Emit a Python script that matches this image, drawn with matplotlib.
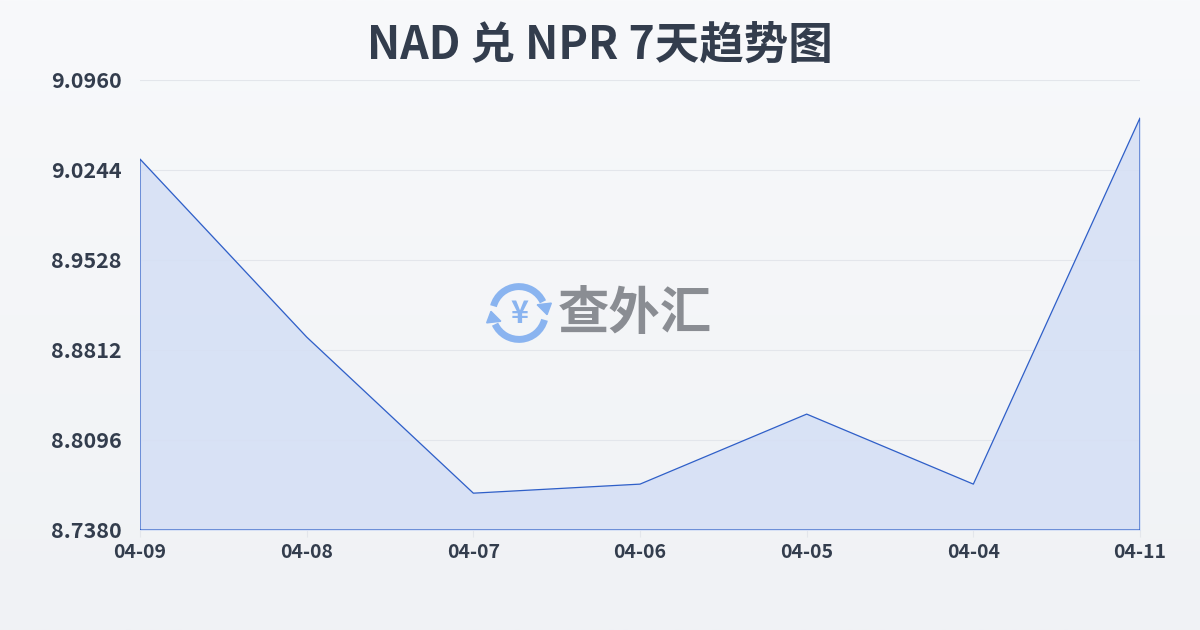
import numpy as np
import matplotlib.pyplot as plt
from matplotlib.patches import Arc, Polygon

plt.rcParams['font.family'] = ['Noto Sans CJK SC', 'DejaVu Sans']

# 数据
dates = ['04-09', '04-08', '04-07', '04-06', '04-05', '04-04', '04-11']
rates = [9.0331, 8.8915, 8.7673, 8.7745, 8.8302, 8.7745, 9.0658]
yticks = [8.7380, 8.8096, 8.8812, 8.9528, 9.0244, 9.0960]

fig = plt.figure(figsize=(12, 6.3), dpi=100)

# 背景渐变
bg = fig.add_axes([0, 0, 1, 1], zorder=-10)
grad = np.linspace(0, 1, 256).reshape(-1, 1)
bg.imshow(grad, aspect='auto', cmap=plt.matplotlib.colors.LinearSegmentedColormap.from_list(
    'bg', ['#f8f9fb', '#f0f2f5']), extent=[0, 1, 0, 1])
bg.axis('off')

ax = fig.add_axes([140 / 1200, 100 / 630, 1000 / 1200, 450 / 630])
ax.patch.set_alpha(0)
x = np.arange(len(dates))

ax.fill_between(x, rates, yticks[0], color='#d6e0f5', alpha=0.9, zorder=2)
# 外框线(含左右和底边)
px = np.concatenate([[x[0]], x, [x[-1], x[0]]])
py = np.concatenate([[yticks[0]], rates, [yticks[0], yticks[0]]])
ax.plot(px, py, color='#2f5fc8', linewidth=0.9, zorder=3)

ax.set_xlim(x[0], x[-1])
ax.set_ylim(yticks[0], yticks[-1])
ax.set_yticks(yticks)
ax.set_yticklabels(['%.4f' % v for v in yticks])
ax.set_xticks(x)
ax.set_xticklabels(dates)
ax.grid(axis='y', color='#e3e6eb', linewidth=0.8, zorder=0)
for s in ax.spines.values():
    s.set_visible(False)
ax.tick_params(axis='y', length=0, pad=13, labelsize=15.5, labelcolor='#333d4d')
ax.tick_params(axis='x', length=5, color='#e3e6eb', pad=4, labelsize=14, labelcolor='#333d4d')
for lab in ax.get_xticklabels() + ax.get_yticklabels():
    lab.set_fontweight('bold')

fig.text(0.5, 0.928, 'NAD 兑 NPR 7天趋势图', ha='center', va='center',
         fontsize=32, fontweight='bold', color='#333d4d')

# 水印
wm = fig.add_axes([486 / 1200, (630 - 346) / 630, 66 / 1200, 66 / 630])
wm.set_xlim(-1, 1)
wm.set_ylim(-1, 1)
wm.set_aspect('equal')
wm.axis('off')
c = '#8ab4f0'
wm.add_patch(Arc((0, 0), 1.6, 1.6, theta1=25, theta2=165, color=c, lw=5))
wm.add_patch(Arc((0, 0), 1.6, 1.6, theta1=205, theta2=345, color=c, lw=5))
wm.add_patch(Polygon([[0.55, 0.25], [0.98, 0.3], [0.85, -0.05]], color=c))
wm.add_patch(Polygon([[-0.55, -0.25], [-0.98, -0.3], [-0.85, 0.05]], color=c))
wm.text(0, -0.02, '¥', ha='center', va='center', fontsize=22, fontweight='bold', color=c)
fig.text(558 / 1200, (630 - 314) / 630, '查外汇', ha='left', va='center',
         fontsize=37, fontweight='bold', color='#8a8d93')

fig.savefig('out.png', dpi=100)
